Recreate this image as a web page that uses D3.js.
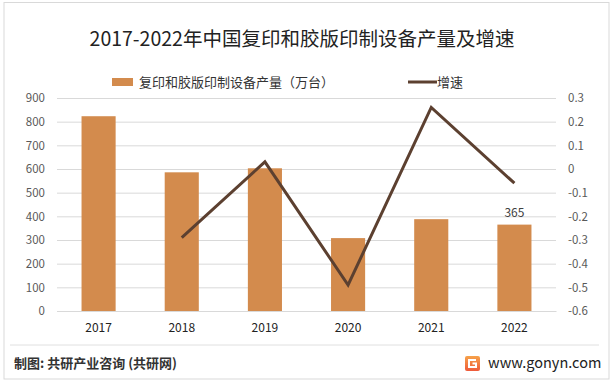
<!DOCTYPE html>
<html>
<head>
<meta charset="utf-8">
<script src="https://cdn.jsdelivr.net/npm/d3@7"></script>
<style>
  body { margin: 0; background: #fff; }
  #canvas { width: 613px; height: 384px; }
</style>
</head>
<body>
<div id="canvas"></div>
<script>
// Data
const years = ["2017", "2018", "2019", "2020", "2021", "2022"];
const output = [823, 586, 603, 308, 388, 365];      // 万台
const growth = [null, -0.29, 0.03, -0.49, 0.26, -0.06];
const leftTicks = [0, 100, 200, 300, 400, 500, 600, 700, 800, 900];
const rightTicks = [-0.6, -0.5, -0.4, -0.3, -0.2, -0.1, 0, 0.1, 0.2, 0.3];

// Constants
const w = 613;
const h = 384;
const plot = { left: 57, right: 556, top: 98, bottom: 311 };
const barColor = "#D38B4D";
const lineColor = "#5C4030";
const font = "'Microsoft YaHei', 'Noto Sans CJK SC', sans-serif";

const x = d3.scaleBand().domain(years).range([plot.left, plot.right]).paddingInner(0.59).paddingOuter(0.295);
const yLeft = d3.scaleLinear().domain([0, 900]).range([plot.bottom, plot.top]);
const yRight = d3.scaleLinear().domain([-0.6, 0.3]).range([plot.bottom, plot.top]);

const svg = d3.select("#canvas").append("svg")
  .attr("width", w)
  .attr("height", h)
  .style("font-family", font);

// outer frame
svg.append("rect")
  .attr("x", 4).attr("y", 2.5)
  .attr("width", 605).attr("height", 376.5)
  .attr("fill", "#fff")
  .attr("stroke", "#d9d9d9");

// title
svg.append("text")
  .attr("x", 302).attr("y", 46)
  .attr("text-anchor", "middle")
  .attr("fill", "#222")
  .style("font-size", "19.5px")
  .text("2017-2022年中国复印和胶版印制设备产量及增速");

// legend
const legend = svg.append("g").style("font-size", "13px").attr("fill", "#333");
legend.append("rect").attr("x", 112).attr("y", 78).attr("width", 21).attr("height", 8).attr("fill", barColor);
legend.append("text").attr("x", 139).attr("y", 87).text("复印和胶版印制设备产量（万台）");
legend.append("line").attr("x1", 408).attr("x2", 437).attr("y1", 82).attr("y2", 82)
  .attr("stroke", lineColor).attr("stroke-width", 3);
legend.append("text").attr("x", 437).attr("y", 87).text("增速");

// gridlines + left axis
const leftAxis = svg.append("g")
  .attr("transform", `translate(${plot.left},0)`)
  .call(d3.axisLeft(yLeft).tickValues(leftTicks).tickSize(-(plot.right - plot.left)).tickPadding(12));
leftAxis.select(".domain").remove();
leftAxis.selectAll(".tick line").attr("stroke", "#d9d9d9");
leftAxis.selectAll(".tick text")
  .attr("fill", "#595959")
  .style("font-size", "11.5px")
  .style("font-family", font);

// right axis
const rightAxis = svg.append("g")
  .attr("transform", `translate(${plot.right},0)`)
  .call(d3.axisRight(yRight).tickValues(rightTicks).tickSize(0).tickPadding(12)
    .tickFormat(d => d3.format(".1~f")(d).replace("−", "-")));
rightAxis.select(".domain").remove();
rightAxis.selectAll(".tick text")
  .attr("fill", "#595959")
  .style("font-size", "11.5px")
  .style("font-family", font);

// bars
svg.append("g").selectAll("rect")
  .data(years)
  .join("rect")
  .attr("x", d => x(d))
  .attr("width", x.bandwidth())
  .attr("y", (d, i) => yLeft(output[i]))
  .attr("height", (d, i) => yLeft(0) - yLeft(output[i]))
  .attr("fill", barColor);

// bottom axis
const bottomAxis = svg.append("g")
  .attr("transform", `translate(0,${plot.bottom})`)
  .call(d3.axisBottom(x).tickSize(0).tickPadding(12));
bottomAxis.select(".domain").attr("stroke", "#d9d9d9");
bottomAxis.selectAll(".tick text")
  .attr("fill", "#222")
  .style("font-size", "12px")
  .style("font-family", font);

// label on last bar
const last = years.length - 1;
svg.append("text")
  .attr("x", x(years[last]) + x.bandwidth() / 2)
  .attr("y", yLeft(output[last]) - 8)
  .attr("text-anchor", "middle")
  .attr("fill", "#404040")
  .style("font-size", "12px")
  .text(output[last]);

// growth line
const line = d3.line()
  .defined(d => d[1] !== null)
  .x(d => x(d[0]) + x.bandwidth() / 2)
  .y(d => yRight(d[1]));
svg.append("path")
  .datum(years.map((y, i) => [y, growth[i]]))
  .attr("d", line)
  .attr("fill", "none")
  .attr("stroke", lineColor)
  .attr("stroke-width", 3)
  .attr("stroke-linejoin", "miter");

// footer
svg.append("line")
  .attr("x1", 10).attr("x2", 599).attr("y1", 345).attr("y2", 345)
  .attr("stroke", "#e0e0e0");
svg.append("text")
  .attr("x", 14).attr("y", 368)
  .attr("fill", "#333")
  .style("font-size", "13px")
  .style("font-weight", "bold")
  .text("制图: 共研产业咨询 (共研网)");

const logo = svg.append("g").attr("transform", "translate(465,356)");
const grad = svg.append("defs").append("linearGradient")
  .attr("id", "logoGrad").attr("x1", 0).attr("y1", 0).attr("x2", 0).attr("y2", 1);
grad.append("stop").attr("offset", "0%").attr("stop-color", "#f6a24a");
grad.append("stop").attr("offset", "100%").attr("stop-color", "#ee5a3a");
logo.append("rect").attr("width", 15).attr("height", 15).attr("rx", 2).attr("fill", "url(#logoGrad)");
logo.append("path")
  .attr("d", "M11 4 H4 V11 H11 V7.5 H7.5")
  .attr("fill", "none").attr("stroke", "#fff").attr("stroke-width", 2);

svg.append("text")
  .attr("x", 488).attr("y", 368)
  .attr("fill", "#222")
  .style("font-size", "14.5px")
  .text("www.gonyn.com");
</script>
</body>
</html>
